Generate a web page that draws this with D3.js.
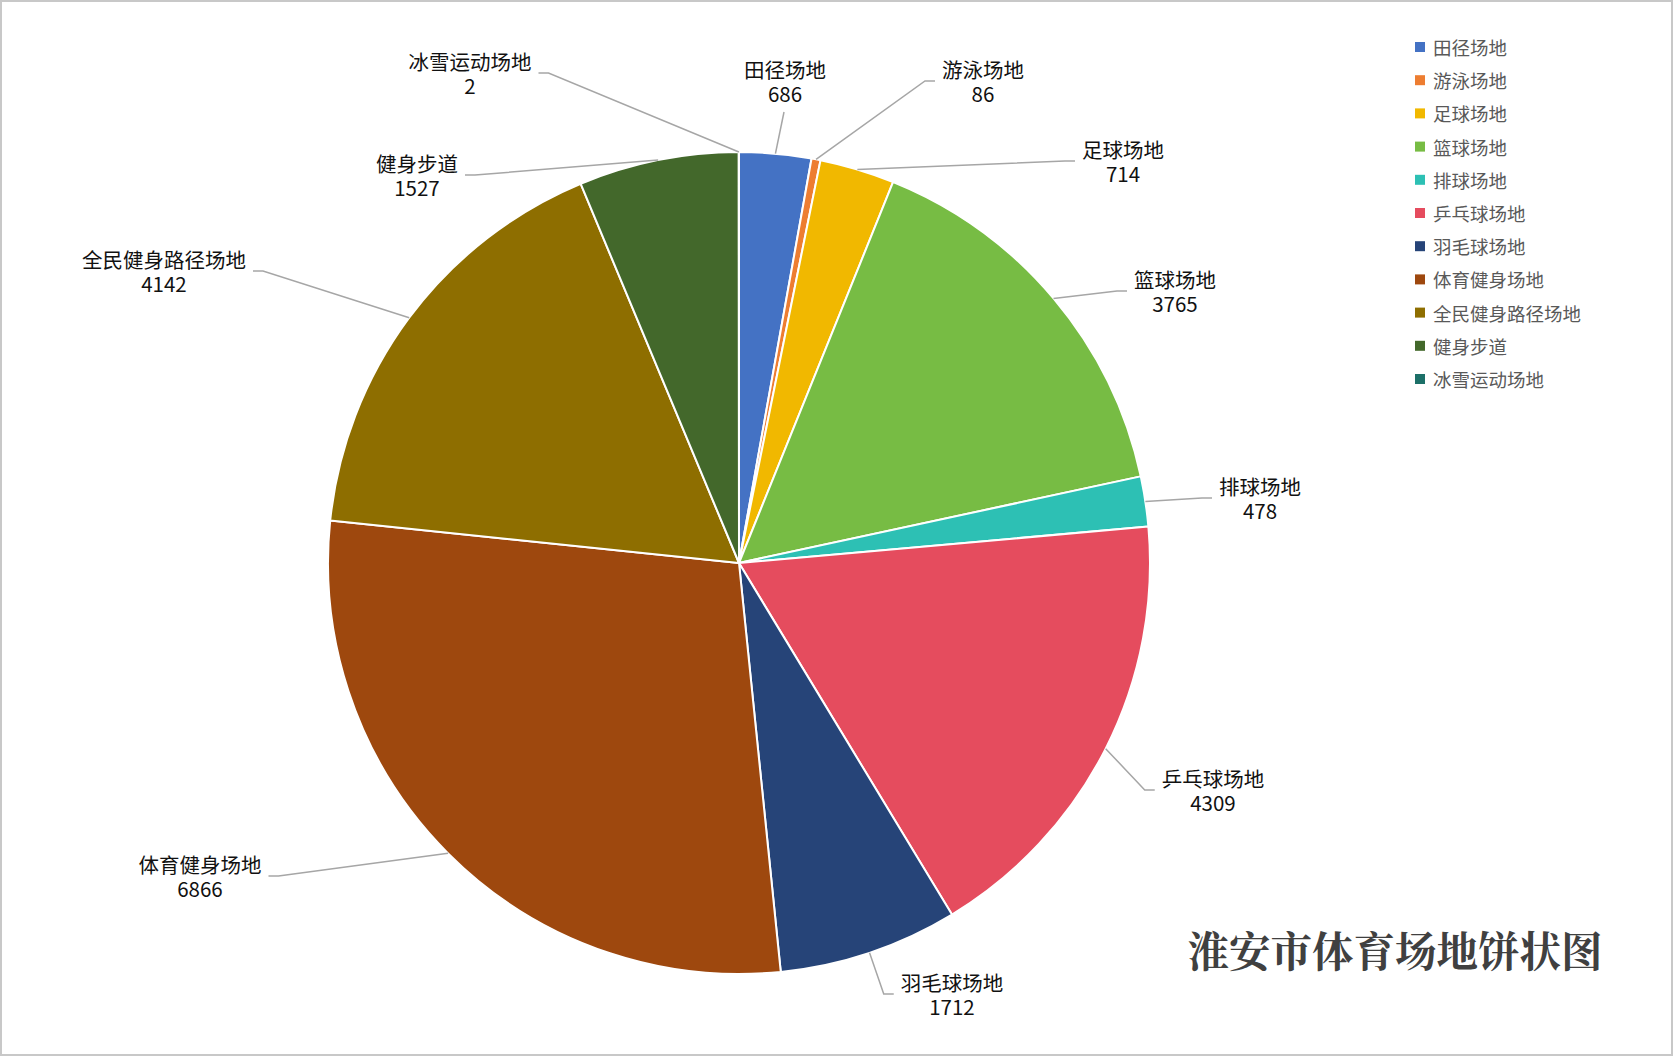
<!DOCTYPE html>
<html>
<head>
<meta charset="utf-8">
<script src="https://cdn.jsdelivr.net/npm/d3@7"></script>
<style>
  body { margin: 0; background: #fff; }
  svg { display: block; }
</style>
</head>
<body>
<div class="chart"></div>
<script>
var categories = ['田径场地', '游泳场地', '足球场地', '篮球场地', '排球场地', '乒乓球场地', '羽毛球场地', '体育健身场地', '全民健身路径场地', '健身步道', '冰雪运动场地'];
var values = [686, 86, 714, 3765, 478, 4309, 1712, 6866, 4142, 1527, 2];
var colors = ['#4472C4', '#ED7D31', '#F1B800', '#77BC44', '#2DC0B4', '#E54C5E', '#264478', '#9E480E', '#8E6E00', '#43682B', '#1C7068'];
var title = '淮安市体育场地饼状图';

// where Excel put each data label: [x, y of first line, side of leader]
var labelPos = [
  [785, 69, 'top'], [983, 69, 'right'], [1123, 149, 'right'], [1175, 279, 'right'],
  [1260, 486, 'right'], [1213, 778, 'right'], [952, 982, 'right'], [200, 864, 'left'],
  [164, 259, 'left'], [417, 163, 'left'], [470, 61, 'left']
];

var width = 1674, height = 1057;
var cx = 739, cy = 563, radius = 411;

var svg = d3.select('.chart')
  .append('svg')
  .attr('width', width)
  .attr('height', height);

svg.append('rect')
  .attr('x', 1)
  .attr('y', 1)
  .attr('width', width - 3)
  .attr('height', height - 3)
  .attr('fill', '#fff')
  .attr('stroke', '#c8c8c8')
  .attr('stroke-width', 2);

var data = categories.map(function(c, i){ return {name: c, value: values[i], color: colors[i]}; });

var pie = d3.pie().sort(null).value(function(d){ return d.value; });
var arc = d3.arc().innerRadius(0).outerRadius(radius);
var arcs = pie(data);

var g = svg.append('g').attr('transform', 'translate(' + cx + ',' + cy + ')');

g.selectAll('path.slice')
  .data(arcs)
  .enter()
  .append('path')
  .attr('class', 'slice')
  .attr('d', arc)
  .attr('fill', function(d){ return d.data.color; })
  .attr('stroke', '#fff')
  .attr('stroke-width', 2)
  .attr('stroke-linejoin', 'round');

var labelFont = '"Microsoft YaHei", "Noto Sans CJK SC", sans-serif';
var lineGap = 24;

var labels = svg.append('g');
var leaders = svg.append('g');

arcs.forEach(function(d, i){
  var p = labelPos[i];
  var t = labels.append('text')
    .attr('font-family', labelFont)
    .attr('font-size', 20.5)
    .attr('fill', '#111')
    .attr('text-anchor', 'middle');
  t.append('tspan')
    .attr('x', p[0])
    .attr('y', p[1])
    .attr('dominant-baseline', 'central')
    .text(d.data.name);
  t.append('tspan')
    .attr('x', p[0])
    .attr('y', p[1] + lineGap)
    .attr('dominant-baseline', 'central')
    .text(d.data.value);

  var w = t.select('tspan').node().getComputedTextLength();
  var mid = (d.startAngle + d.endAngle) / 2;
  var start = [cx + radius * Math.sin(mid), cy - radius * Math.cos(mid)];
  var pts;
  if (p[2] === 'top') {
    pts = [start, [p[0] - 1, p[1] + lineGap + 19]];
  } else if (p[2] === 'right') {
    var ex = p[0] - w / 2 - 7, ey = p[1] + lineGap / 2;
    pts = [start, [ex - 10, ey], [ex, ey]];
  } else {
    var lx = p[0] + w / 2 + 7, ly = p[1] + lineGap / 2;
    pts = [start, [lx + 10, ly], [lx, ly]];
  }
  leaders.append('path')
    .attr('d', d3.line()(pts))
    .attr('fill', 'none')
    .attr('stroke', '#a6a6a6')
    .attr('stroke-width', 1.5);
});

var legend = svg.append('g').attr('transform', 'translate(1415,47)');
var item = legend.selectAll('g')
  .data(data)
  .enter()
  .append('g')
  .attr('transform', function(d, i){ return 'translate(0,' + (i * 33.2) + ')'; });

item.append('rect')
  .attr('x', 0)
  .attr('y', -5)
  .attr('width', 10)
  .attr('height', 10)
  .attr('fill', function(d){ return d.color; });

item.append('text')
  .attr('x', 18)
  .attr('y', 0)
  .attr('dominant-baseline', 'central')
  .attr('font-family', labelFont)
  .attr('font-size', 18.5)
  .attr('fill', '#595959')
  .text(function(d){ return d.name; });

svg.append('text')
  .attr('x', 1395)
  .attr('y', 949)
  .attr('text-anchor', 'middle')
  .attr('dominant-baseline', 'central')
  .attr('font-family', '"Noto Serif CJK SC", "Noto Sans CJK SC", serif')
  .attr('font-weight', 700)
  .attr('font-size', 41.5)
  .attr('fill', '#404040')
  .text(title);
</script>
</body>
</html>
